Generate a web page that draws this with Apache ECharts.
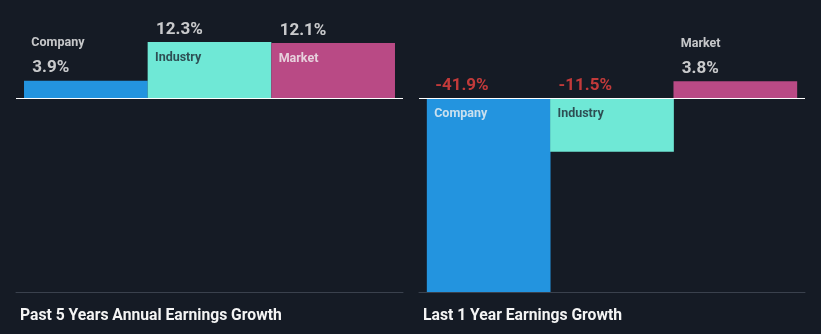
<!DOCTYPE html>
<html><head><meta charset="utf-8">
<script src="https://cdn.jsdelivr.net/npm/echarts@6/dist/echarts.min.js"></script>
<style>html,body{margin:0;padding:0;background:#151b25;}#c{width:821px;height:334px;}</style>
</head><body><div id="c"></div>
<script>
const categories = ['Company', 'Industry', 'Market'];
const past5Years = [3.9, 12.3, 12.1];
const last1Year = [-41.9, -11.5, 3.8];
const panelTitles = ['Past 5 Years Annual Earnings Growth', 'Last 1 Year Earnings Growth'];

const barColors = ['#2394df', '#6fe8d6', '#b94a85'];
const nameColors = ['#f2f2f2', '#1d2732', '#f2f2f2'];
const allVals = past5Years.concat(last1Year);
const yMin = Math.min.apply(null, allVals), yMax = Math.max.apply(null, allVals);

const panels = [past5Years, last1Year];
const grids = [{left: 16, width: 387, top: 42, height: 250}, {left: 419, width: 386, top: 42, height: 250}];
const xAxes = [], yAxes = [], series = [], titles = [];
panels.forEach((vals, p) => {
  xAxes.push({gridIndex: p, type: 'value', min: -0.565, max: 2.565, position: 'bottom',
    axisLine: {onZero: false, lineStyle: {color: '#3a414d', width: 1}},
    axisTick: {show: false}, axisLabel: {show: false}, splitLine: {show: false}});
  yAxes.push({gridIndex: p, type: 'value', min: yMin, max: yMax, show: false, splitLine: {show: false}});
  series.push({
    type: 'bar', xAxisIndex: p, yAxisIndex: p, barWidth: 123.7,
    data: vals.map((v, i) => ({value: [i, v], itemStyle: {color: barColors[i]}})),
    markLine: {silent: true, symbol: 'none', label: {show: false},
      lineStyle: {color: '#ffffff', width: 1, type: 'solid'}, data: [{yAxis: 0}]},
    animation: false
  });
  // value labels
  series.push({
    type: 'scatter', xAxisIndex: p, yAxisIndex: p, symbolSize: 1, itemStyle: {color: 'rgba(0,0,0,0)'},
    data: vals.map((v, i) => ({value: [i, Math.max(v, 0)],
      label: {show: true, position: [-53, -12], align: 'left', verticalAlign: 'middle',
        formatter: v.toFixed(1) + '%', fontFamily: 'Roboto', fontWeight: 'bold', fontSize: 17,
        color: v < 0 ? '#ee4240' : '#f6f6f6'}})),
    animation: false, silent: true, z: 5
  });
  // name labels
  series.push({
    type: 'scatter', xAxisIndex: p, yAxisIndex: p, symbolSize: 1, itemStyle: {color: 'rgba(0,0,0,0)'},
    data: vals.map((v, i) => ({value: [i, Math.max(v, 0)],
      label: {show: true, position: [-54, (v > 0 && v < 6) ? -37 : 16], align: 'left', verticalAlign: 'middle',
        formatter: categories[i], fontFamily: 'Roboto', fontWeight: 'bold', fontSize: 12.5,
        color: (v > 0 && v < 6) ? '#f2f2f2' : nameColors[i]}})),
    animation: false, silent: true, z: 5
  });
  titles.push({text: panelTitles[p], left: grids[p].left - 1, top: 303,
    textStyle: {fontFamily: 'Roboto', fontWeight: 'bold', fontSize: 15.7, color: '#f4f4f4'}});
});

const chart = echarts.init(document.getElementById('c'), null, {renderer: 'canvas'});
chart.setOption({
  backgroundColor: '#151b25',
  animation: false,
  title: titles,
  grid: grids,
  xAxis: xAxes,
  yAxis: yAxes,
  series: series
});
</script></body></html>
